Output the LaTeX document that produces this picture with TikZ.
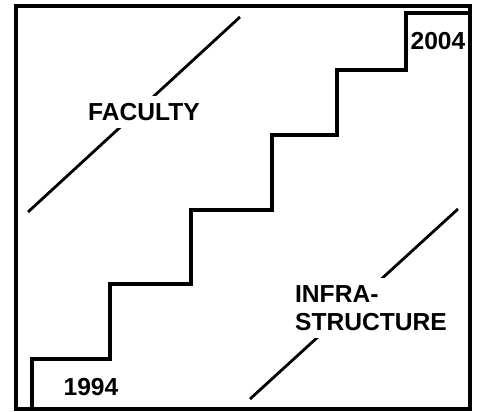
\documentclass[tikz,border=0pt]{standalone}
\usepackage{fontspec}
\setmainfont{Liberation Sans}
\newcommand\lbl{\fontsize{17.5}{20}\selectfont\bfseries}

\begin{document}
\begin{tikzpicture}[heavy/.style={line width=2.5pt}, split/.style={line width=2pt}, tag/.style={font=\lbl}, cut/.style={tag, fill=white, inner sep=5pt}]
\useasboundingbox (0,0) rectangle (12,10.3);
\draw[heavy] (0.4,0.075) rectangle (11.75,10.15);
\draw[heavy] (0.8,0.075) |- (2.75,1.325) |- (4.775,3.2) |- (6.8,5.05) |- (8.425,6.925) |- (10.15,8.55) |- (11.75,9.975);
\coordinate (fac low) at (0.7,5.0);
\coordinate (fac high) at (6.0,9.875);
\coordinate (inf low) at (6.25,0.325);
\coordinate (inf high) at (11.45,5.075);
\draw[split] (fac low) -- (fac high);
\draw[split] (inf low) -- (inf high);
\node[cut] (faculty) at (3.6,7.5) {FACULTY};
\node[cut, align=left] (infra) at (9.275,2.6) {INFRA-\\STRUCTURE};
\node[tag] (start) at (2.275,0.625) {1994};
\node[tag] (end) at (10.95,9.275) {2004};
\end{tikzpicture}
\end{document}
